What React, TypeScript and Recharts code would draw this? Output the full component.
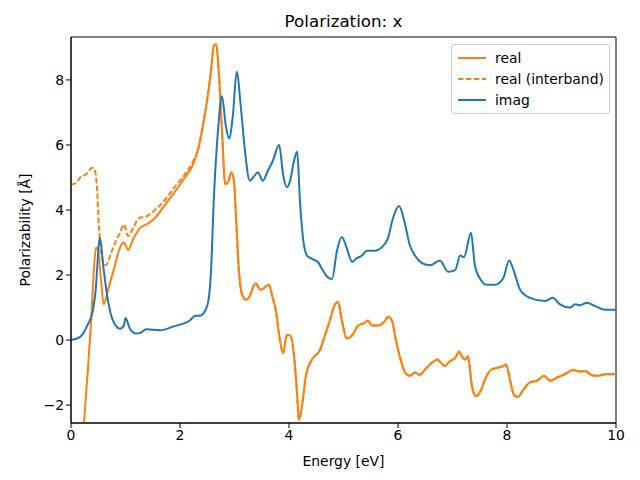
import { LineChart, Line, XAxis, YAxis, Legend, ReferenceArea } from 'recharts'

const imagE = [0, 0.17, 0.3, 0.4, 0.45, 0.53, 0.6, 0.68, 0.77, 0.9, 0.97, 1.0, 1.08, 1.2, 1.27, 1.38, 1.63, 1.9, 2.18, 2.28, 2.37, 2.46, 2.52, 2.57, 2.62, 2.7, 2.77, 2.84, 2.9, 2.97, 3.04, 3.12, 3.19, 3.28, 3.34, 3.43, 3.52, 3.61, 3.7, 3.82, 3.89, 3.96, 4.02, 4.09, 4.15, 4.2, 4.26, 4.33, 4.42, 4.53, 4.62, 4.7, 4.79, 4.88, 4.97, 5.06, 5.16, 5.23, 5.34, 5.43, 5.58, 5.7, 5.82, 5.9, 6.02, 6.11, 6.22, 6.31, 6.44, 6.59, 6.77, 6.92, 7.05, 7.14, 7.21, 7.34, 7.41, 7.52, 7.63, 7.78, 7.93, 8.04, 8.13, 8.24, 8.42, 8.7, 8.84, 8.97, 9.16, 9.25, 9.34, 9.47, 9.61, 9.8, 10]
const imagV = [0, 0.1, 0.45, 0.9, 1.5, 3.15, 2.15, 1.2, 0.6, 0.35, 0.45, 0.68, 0.35, 0.2, 0.22, 0.33, 0.3, 0.43, 0.6, 0.75, 0.75, 0.9, 1.2, 2.15, 4.3, 6.5, 7.5, 6.6, 6.2, 6.9, 8.25, 7.1, 5.85, 4.9, 5.0, 5.15, 4.9, 5.2, 5.5, 6.0, 5.1, 4.7, 4.9, 5.5, 5.8, 4.3, 3.1, 2.6, 2.5, 2.4, 2.15, 1.95, 1.88, 2.75, 3.17, 2.83, 2.4, 2.5, 2.6, 2.75, 2.75, 2.85, 3.15, 3.7, 4.12, 3.7, 2.9, 2.6, 2.37, 2.3, 2.45, 2.1, 2.15, 2.6, 2.55, 3.3, 2.3, 1.85, 1.7, 1.7, 1.9, 2.45, 2.1, 1.55, 1.3, 1.2, 1.3, 1.1, 1.0, 1.1, 1.07, 1.15, 1.05, 0.93, 0.93]

const realE = [0.1, 0.15, 0.2, 0.24, 0.31, 0.37, 0.42, 0.46, 0.5, 0.55, 0.6, 0.68, 0.79, 0.9, 0.97, 1.05, 1.14, 1.27, 1.38, 1.54, 1.72, 1.9, 2.09, 2.24, 2.33, 2.42, 2.5, 2.57, 2.62, 2.66, 2.72, 2.77, 2.83, 2.88, 2.94, 2.99, 3.03, 3.08, 3.14, 3.21, 3.28, 3.36, 3.39, 3.47, 3.54, 3.63, 3.7, 3.76, 3.82, 3.89, 3.96, 4.02, 4.09, 4.15, 4.18, 4.24, 4.31, 4.42, 4.57, 4.66, 4.75, 4.83, 4.9, 4.97, 5.06, 5.16, 5.27, 5.38, 5.45, 5.52, 5.63, 5.74, 5.82, 5.89, 5.96, 6.04, 6.13, 6.22, 6.31, 6.4, 6.5, 6.62, 6.72, 6.79, 6.86, 6.95, 7.05, 7.12, 7.17, 7.23, 7.28, 7.36, 7.43, 7.52, 7.61, 7.72, 7.83, 7.93, 7.98, 8.06, 8.13, 8.2, 8.29, 8.42, 8.55, 8.68, 8.79, 8.92, 9.06, 9.21, 9.34, 9.43, 9.56, 9.67, 9.8, 10]
const realV = [-9, -5.5, -3.6, -2.5, -0.9, 0.6, 2.15, 2.85, 2.75, 1.85, 1.1, 1.55, 2.2, 2.85, 3.0, 2.77, 3.1, 3.45, 3.55, 3.75, 4.15, 4.55, 5.0, 5.4, 5.85, 6.6, 7.4, 8.3, 9.05, 9.1, 8.0, 6.45, 4.8, 4.85, 5.15, 4.9, 3.7, 2.15, 1.4, 1.25, 1.35, 1.7, 1.75, 1.55, 1.6, 1.7, 1.3, 0.9, 0.15, -0.4, 0.15, 0.15, -0.45, -1.7, -2.45, -2.0, -1.1, -0.6, -0.3, 0.15, 0.6, 1.05, 1.17, 0.6, 0.05, 0.15, 0.45, 0.52, 0.6, 0.45, 0.45, 0.55, 0.72, 0.6, 0.0, -0.55, -1.0, -1.1, -1.0, -1.07, -0.9, -0.7, -0.6, -0.7, -0.8, -0.65, -0.55, -0.35, -0.5, -0.6, -0.5, -1.45, -1.72, -1.55, -1.15, -0.9, -0.85, -0.8, -0.75, -1.25, -1.7, -1.75, -1.55, -1.3, -1.25, -1.1, -1.25, -1.15, -1.05, -0.92, -0.97, -0.95, -1.08, -1.1, -1.05, -1.05]

const interE = [0, 0.09, 0.17, 0.28, 0.39, 0.44, 0.48, 0.51, 0.55, 0.59, 0.64, 0.72, 0.81, 0.9, 0.97, 1.05, 1.14, 1.25, 1.38, 1.54, 1.72, 1.9, 2.09, 2.24, 2.33, 2.42, 2.5, 2.57, 2.62, 2.66, 2.72]
const interV = [4.78, 4.83, 5.0, 5.1, 5.3, 5.2, 4.6, 3.55, 2.75, 2.4, 2.3, 2.6, 3.0, 3.3, 3.55, 3.2, 3.45, 3.75, 3.8, 4.0, 4.3, 4.7, 5.1, 5.5, 5.85, 6.6, 7.4, 8.3, 9.05, 9.1, 8.0]

const xTicks = [0, 2, 4, 6, 8, 10]
const yTicks = [-2, 0, 2, 4, 6, 8]
const xDomain = [0, 10]
const yDomain = [-2.55, 9.32]
const legendOrder = ['real', 'real (interband)', 'imag']

const zip = (es: number[], vs: number[]) => es.map((e, i) => ({ e, v: vs[i] }))

// interband coincides with the full real part above ~2.7 eV
const realData = zip(realE, realV)
const interData = zip(interE, interV).concat(realData.filter((d) => d.e > 2.72))
const imagData = zip(imagE, imagV)

const FONT = 'DejaVu Sans, sans-serif'
const FS = 13.9

function LegendBox(props: any) {
  const items = [...(props.payload || [])].sort(
    (a: any, b: any) => legendOrder.indexOf(a.value) - legendOrder.indexOf(b.value)
  )
  return (
    <div
      style={{
        border: '1px solid #cccccc',
        borderRadius: 3,
        background: 'rgba(255,255,255,0.8)',
        padding: '2px 4px 3px 6px',
        fontFamily: FONT,
        fontSize: FS,
        color: '#000',
        whiteSpace: 'nowrap',
      }}
    >
      {items.map((it: any) => (
        <div key={it.value} style={{ display: 'flex', alignItems: 'center', height: 21 }}>
          <svg width={28} height={4} style={{ marginRight: 9, flexShrink: 0 }}>
            <line
              x1={0}
              y1={2}
              x2={28}
              y2={2}
              stroke={it.color}
              strokeWidth={2}
              strokeDasharray={it.payload?.strokeDasharray}
            />
          </svg>
          <span style={{ whiteSpace: 'nowrap' }}>{it.value}</span>
        </div>
      ))}
    </div>
  )
}

export default function App() {
  return (
    <div style={{ position: 'fixed', left: 0, top: 0, width: 640, height: 480, background: '#fff' }}>
      <div
        style={{
          position: 'absolute',
          top: 11,
          left: 71,
          width: 545,
          textAlign: 'center',
          fontFamily: FONT,
          fontSize: 16.7,
        }}
      >
        Polarization: x
      </div>
      <LineChart width={640} height={480} margin={{ top: 37, right: 24, bottom: 0, left: 0 }}>
        <XAxis
          dataKey="e"
          type="number"
          domain={xDomain}
          ticks={xTicks}
          allowDuplicatedCategory={false}
          height={57}
          tickSize={5}
          stroke="#000"
          tick={{ fill: '#000', fontSize: FS, fontFamily: FONT }}
          label={{ value: 'Energy [eV]', position: 'insideBottom', offset: 14, fill: '#000', fontSize: FS, fontFamily: FONT }}
        />
        <YAxis
          type="number"
          domain={yDomain}
          ticks={yTicks}
          allowDataOverflow
          width={71}
          tickSize={5}
          stroke="#000"
          tickFormatter={(v: number) => (v < 0 ? '\u2212' + Math.abs(v) : String(v))}
          tick={{ fill: '#000', fontSize: FS, fontFamily: FONT }}
          label={{ value: 'Polarizability [Å]', angle: -90, position: 'insideLeft', offset: 25, style: { textAnchor: 'middle' }, fill: '#000', fontSize: FS, fontFamily: FONT }}
        />
        <ReferenceArea x1={xDomain[0]} x2={xDomain[1]} y1={yDomain[0]} y2={yDomain[1]} fill="none" stroke="#000" strokeWidth={1} ifOverflow="visible" />
        <Legend
          layout="vertical"
          verticalAlign="middle"
          align="center"
          content={LegendBox}
          wrapperStyle={{ position: 'absolute', top: 44, left: 451, width: 159 }}
        />
        <Line data={realData} dataKey="v" name="real" type="monotoneX" stroke="#ff7f0e" strokeWidth={2} dot={false} isAnimationActive={false} />
        <Line data={interData} dataKey="v" name="real (interband)" type="monotoneX" stroke="#ff7f0e" strokeWidth={2} strokeDasharray="5.5 2.4" dot={false} isAnimationActive={false} />
        <Line data={imagData} dataKey="v" name="imag" type="monotoneX" stroke="#1f77b4" strokeWidth={2} dot={false} isAnimationActive={false} />
      </LineChart>
    </div>
  )
}
